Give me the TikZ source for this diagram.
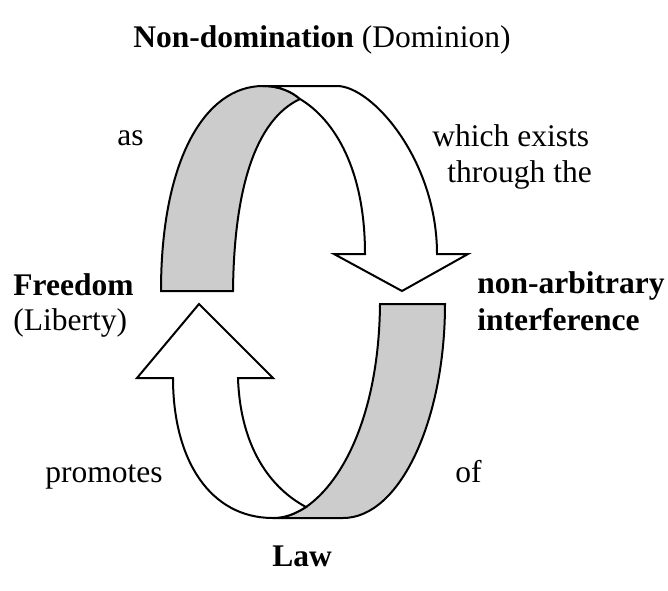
\documentclass[tikz,border=0pt]{standalone}
\usepackage{fontspec}
\setmainfont{Liberation Serif}
\usepackage{tikz}
\usetikzlibrary{positioning}

\begin{document}
\begin{tikzpicture}
        [x=0.5pt, y=-0.5pt,
         every node/.style={inner sep=0pt, font=\fontsize{15.75}{17.5}\selectfont},
         frontface/.style={draw, fill=white, line width=1pt, line join=miter},
         backface/.style={draw, fill=black!20, line width=1pt, line join=miter}]
      \useasboundingbox (0,0) rectangle (668,590);
      % upper arrow: back side, then front side with head
      \path[backface] (161,291) -- (233,291)
          .. controls (234,190) and (255,120) .. (300,99)
          .. controls (292,92) and (280,86) .. (263,86)
          .. controls (205,86) and (161,160) .. (161,291) -- cycle;
      \path[frontface] (263,86) -- (337,86)
          .. controls (372,86) and (437,160) .. (437,254)
          -- (468,254) -- (402,291) -- (334,254) -- (365,254)
          .. controls (365,170) and (335,120) .. (300,99)
          .. controls (292,92) and (280,86) .. (263,86) -- cycle;
      % lower arrow
      \path[backface] (380,304) -- (445,304)
          .. controls (445,420) and (400,518) .. (343,518)
          -- (273,518)
          .. controls (285,518) and (295,514) .. (306,507)
          .. controls (345,480) and (379,410) .. (380,304) -- cycle;
      \path[frontface] (173,378) -- (137,378) -- (199,304) -- (273,378) -- (238,378)
          .. controls (240,440) and (265,485) .. (306,507)
          .. controls (295,514) and (285,518) .. (273,518)
          .. controls (210,518) and (173,460) .. (173,378) -- cycle;
      % labels
      \node (title) [anchor=base] at (322,47) {\textbf{Non-domination} (Dominion)};
      \node (freedom) [anchor=base west] at (13,295) {\textbf{Freedom}};
      \node (liberty) [anchor=base west] at (13,330) {(Liberty)};
      \node (nonarb) [anchor=base west] at (477,293) {\textbf{non-arbitrary}};
      \node (interf) [anchor=base west] at (477,330) {\textbf{interference}};
      \node (as) [anchor=base west] at (117,145) {as};
      \node (which) [anchor=base west] at (432,146) {which exists};
      \node (through) [anchor=base west] at (447,182) {through the};
      \node (promotes) [anchor=base west] at (45,482) {promotes};
      \node (of) [anchor=base west] at (455,482) {of};
      \node (law) [anchor=base] at (302,566) {\textbf{Law}};
\end{tikzpicture}
\end{document}
